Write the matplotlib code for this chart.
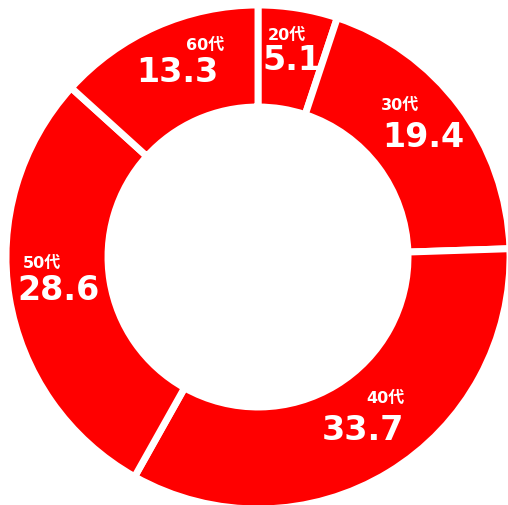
import matplotlib.pyplot as plt

plt.rcParams['font.family'] = ['DejaVu Sans', 'Noto Sans CJK JP']

labels = ['20代', '30代', '40代', '50代', '60代']
values = [5.1, 19.4, 33.7, 28.6, 13.3]
value_text = ['5.1', '19.4', '33.7', '28.6', '13.3']

# text anchor points (centre x, baseline y) in axis units, centre of ring = 0,0
label_pos = [(29, 218), (142, 148), (127, -145), (-216, -10), (-53, 208)]
value_pos = [(34, 188), (165, 111), (105, -182), (-199, -42), (-81, 176)]

fig = plt.figure(figsize=(5.08, 5.06), dpi=100)
ax = fig.add_axes([0, 0, 1, 1])

R = 252
wedges, _ = ax.pie(values, radius=R, startangle=90, counterclock=False,
                   colors=['#ff0000'] * len(values),
                   wedgeprops=dict(width=102, edgecolor='white', linewidth=5))

for lab, vt, lp, vp in zip(labels, value_text, label_pos, value_pos):
    ax.text(lp[0], lp[1], lab, color='white', fontsize=11.5, fontweight='bold',
            ha='center', va='baseline')
    ax.text(vp[0], vp[1], vt, color='white', fontsize=24, fontweight='bold',
            ha='center', va='baseline')

ax.set_xlim(-258, 250)
ax.set_ylim(-248, 258)
ax.set_aspect('equal')
ax.axis('off')

plt.savefig('out.png', dpi=100)
